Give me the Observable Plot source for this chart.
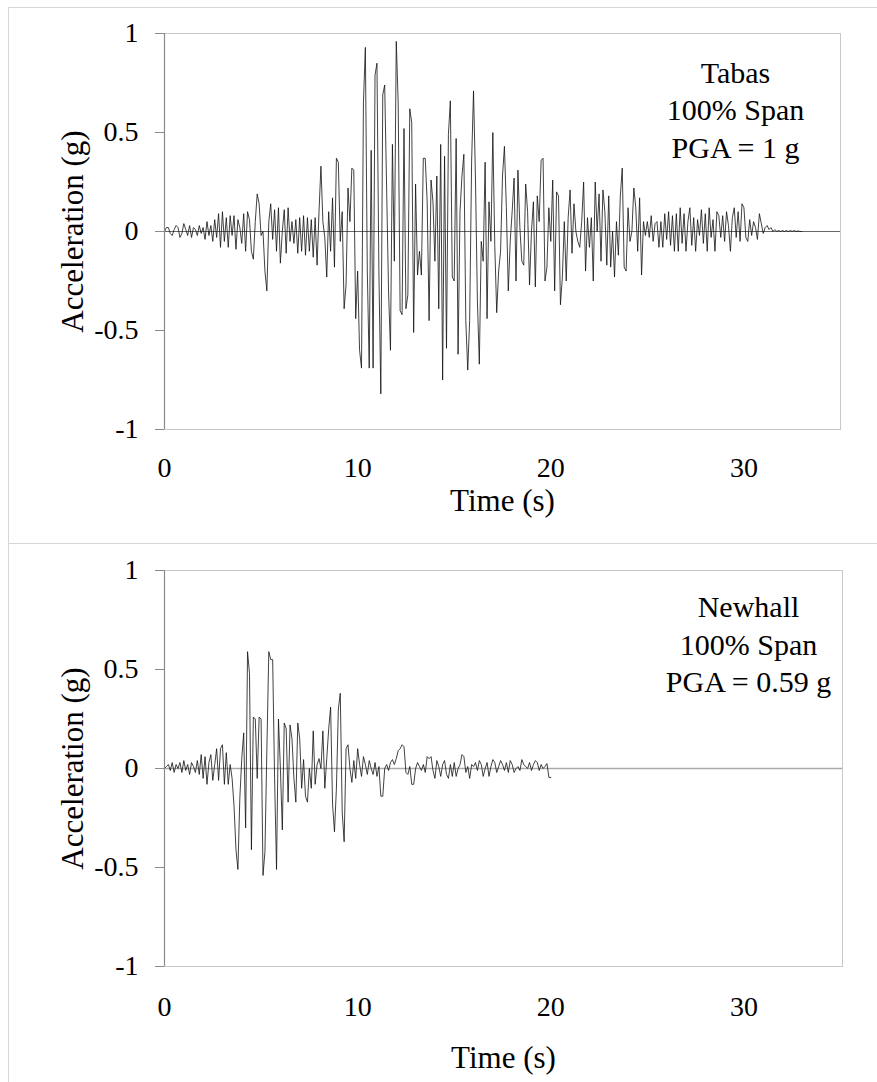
<!DOCTYPE html>
<html><head><meta charset="utf-8">
<script src="https://cdn.jsdelivr.net/npm/d3@7"></script>
<script src="https://cdn.jsdelivr.net/npm/@observablehq/plot@0.6"></script>
<style>
html,body{margin:0;padding:0;background:#fff;}
#wrap{position:absolute;left:8px;top:7px;width:869px;height:1075px;border-left:1px solid #d6d6d6;border-top:1px solid #d6d6d6;}
#top{height:535px;}
#bottom{border-top:1px solid #d6d6d6;height:538px;}
svg{display:block}
</style></head><body>
<div id="wrap"><div id="top"></div><div id="bottom"></div></div>
<script>
// sampling interval of the digitised records (s)
const dt = 0.1;
// Tabas record, acceleration (g), one value per 0.1 s from t = 0
const tabasAcc = [
 0, 0.02, 0.02, -0.01, -0.02, 0.01, 0.03, 0.02, -0.03, -0.01,
 0.04, 0.01, -0.02, 0.03, -0.03, 0.02, 0.01, -0.02, 0.03, -0.01,
 0.02, -0.04, 0.05, -0.02, 0.03, -0.05, 0.06, -0.03, 0.09, -0.08,
 0.1, -0.05, 0.07, -0.08, 0.08, -0.02, 0.08, -0.09, 0.06, 0.02,
 -0.06, 0.09, -0.1, 0.1, 0.06, -0.1, -0.14, 0.05, 0.19, 0.14,
 -0.02, 0.0, -0.2, -0.3, 0.05, 0.14, -0.04, 0.11, -0.1, 0.12,
 -0.16, 0.0, 0.11, -0.11, 0.12, -0.05, 0.05, -0.06, 0.06, -0.11,
 0.07, -0.1, 0.08, -0.12, 0.07, -0.1, 0.06, -0.13, 0.07, -0.17,
 0.1, 0.33, 0.05, -0.03, -0.23, 0.1, -0.1, 0.17, -0.18, 0.37,
 0.35, -0.05, 0.1, -0.39, -0.27, 0.22, 0.05, 0.32, 0.31, -0.44,
 -0.2, -0.6, -0.69, 0.65, 0.93, -0.2, -0.69, 0.41, -0.69, 0.79,
 0.85, -0.2, -0.82, 0.69, 0.74, 0.22, -0.3, -0.6, 0.44, -0.15,
 0.96, 0.65, -0.4, -0.42, 0.52, -0.39, -0.32, 0.62, 0.55, -0.51,
 0.24, -0.22, -0.1, -0.22, 0.37, 0.37, 0.15, -0.45, 0.26, 0.15,
 -0.15, 0.28, -0.39, 0.44, -0.75, 0.38, -0.59, 0.49, 0.66, -0.23,
 -0.25, 0.47, -0.62, 0.1, 0.28, 0.39, -0.45, -0.7, -0.45, 0.35,
 0.71, 0.27, -0.35, -0.67, -0.05, -0.15, 0.35, -0.44, 0.15, -0.05,
 0.5, -0.07, -0.41, -0.2, -0.1, 0.28, 0.43, 0.12, -0.3, -0.05,
 0.1, 0.27, -0.25, 0.31, 0.02, -0.15, -0.17, 0.24, 0.1, -0.27,
 0.0, 0.15, -0.28, 0.18, 0.05, 0.36, 0.37, -0.25, -0.18, 0.12,
 -0.05, 0.26, -0.3, 0.2, 0.18, -0.37, -0.23, 0.05, -0.25, 0.07,
 0.21, -0.11, 0.14, 0.0, -0.05, -0.08, 0.05, 0.25, -0.2, 0.07,
 -0.08, 0.07, -0.25, 0.25, 0.0, 0.19, -0.15, 0.21, 0.1, -0.17,
 0.18, -0.18, 0.0, -0.23, 0.05, -0.12, 0.18, 0.32, -0.18, -0.2,
 0.12, -0.05, 0.0, 0.22, 0.12, -0.1, 0.17, -0.22, 0.05, -0.02,
 0.05, -0.03, 0.08, -0.05, 0.04, 0.05, -0.08, 0.05, -0.08, 0.09,
 -0.04, 0.1, -0.07, 0.08, -0.1, 0.09, -0.1, 0.12, -0.06, 0.09,
 -0.1, 0.05, 0.12, -0.07, 0.07, -0.1, 0.06, -0.02, 0.11, -0.06,
 0.09, -0.1, 0.12, -0.03, 0.06, -0.1, 0.1, 0.08, -0.03, 0.08,
 -0.05, 0.1, 0.03, -0.1, 0.07, 0.12, -0.03, 0.1, -0.05, 0.14,
 0.12, -0.03, -0.05, 0.06, -0.02, 0.05, 0.02, -0.04, 0.09, 0.04,
 -0.01, 0.02, 0.03, 0.01, 0.02, 0.0, 0.01, 0.0, 0.005, 0.0,
 0.005, 0, 0.005, 0, 0.005, 0, 0.005, 0, 0.003, 0,
 0
];
// Newhall record, acceleration (g), one value per 0.1 s from t = 0
const newhallAcc = [
 0, 0.01, 0.02, -0.01, 0.03, -0.02, 0.02, 0.0, 0.03, -0.02,
 0.04, -0.01, 0.02, -0.03, 0.03, 0.01, -0.02, 0.04, -0.03, 0.07,
 -0.05, 0.06, -0.08, 0.03, 0.07, -0.06, 0.02, 0.1, -0.06, 0.1,
 0.12, -0.08, 0.08, -0.08, 0.02, -0.05, -0.19, -0.41, -0.51, -0.15,
 0.05, 0.18, -0.3, 0.59, 0.48, -0.41, 0.26, 0.25, -0.05, 0.26,
 0.25, -0.54, -0.42, 0.1, 0.59, 0.55, 0.55, -0.05, -0.51, 0.25,
 0.0, -0.31, 0.23, 0.2, -0.17, 0.22, 0.15, -0.05, -0.17, 0.23,
 0.15, -0.1, 0.045, -0.14, -0.17, 0.0, -0.1, 0.19, -0.08, 0.02,
 0.05, 0.0, 0.19, -0.1, 0.05, 0.2, 0.31, -0.18, -0.32, -0.1,
 0.3, 0.38, -0.22, -0.37, 0.1, 0.12, 0.0, -0.07, 0.04, -0.05,
 0.1, 0.02, -0.04, 0.06, 0.02, -0.03, 0.04, 0.0, -0.03, 0.03,
 -0.04, 0.01, -0.14, -0.14, 0.0, 0.02, -0.01, 0.03, 0.045, 0.02,
 0.05, 0.09, 0.1, 0.12, 0.11, -0.02, -0.03, 0.01, -0.08, -0.08,
 0.0, 0.03, 0.01, -0.01, 0.02, -0.02, 0.06, 0.05, 0.06, -0.01,
 -0.05, 0.04, 0.01, -0.04, 0.02, 0.04, -0.03, -0.05, 0.02, -0.04,
 0.03, -0.04, 0.0, 0.02, 0.07, 0.06, -0.02, 0.01, -0.05, 0.02,
 0.01, 0.03, -0.01, 0.04, 0.02, -0.04, 0.0, 0.03, -0.04, 0.01,
 0.045, 0.03, -0.02, 0.01, 0.04, 0.02, -0.01, 0.03, -0.02, 0.04,
 0.02, -0.02, 0.0, 0.01, -0.01, 0.045, 0.02, 0.01, 0.0, 0.03,
 -0.01, 0.02, 0.04, 0.03, -0.01, 0.02, 0.0, 0.01, 0.025, -0.045,
 -0.045
];
const xTicks = [0, 10, 20, 30];
const yTicks = [-1, -0.5, 0, 0.5, 1];
const xLabel = "Time (s)";
const yLabel = "Acceleration (g)";
const tabasNotes = ["Tabas", "100% Span", "PGA = 1 g"];
const newhallNotes = ["Newhall", "100% Span", "PGA = 0.59 g"];

const serif = "'Liberation Serif','Times New Roman',Times,serif";
const toRows = arr => arr.map((a, i) => ({t: i * dt, a}));

function panel(o) {
  return Plot.plot({
    width: 868, height: o.height,
    marginLeft: 155, marginRight: o.marginRight, marginTop: o.marginTop, marginBottom: o.marginBottom,
    style: {fontFamily: serif, fontSize: "28px", color: "#000", background: "#fff", overflow: "visible"},
    x: {domain: [0, o.xMax]},
    y: {domain: [-1, 1]},
    marks: [
      Plot.frame({stroke: "#c8c8c8"}),
      Plot.ruleY([0], {stroke: o.zeroStroke, strokeWidth: o.zeroWidth}),
      Plot.line(o.data, {x: "t", y: "a", curve: "linear", stroke: "#111", strokeWidth: 0.8}),
      Plot.ruleX([0], {stroke: "#8a8a8a", strokeWidth: 1.2}),
      Plot.axisY(yTicks, {label: null, tickSize: 9, tickPadding: 17, tickFormat: d => String(d), stroke: "#8a8a8a", fontFamily: serif, fontSize: 28}),
      Plot.axisX(xTicks, {label: null, tickSize: 0, tickPadding: o.tickPad, tickFormat: d => String(d), fontFamily: serif, fontSize: 28}),
      Plot.text([xLabel], {text: d => d, frameAnchor: "bottom", lineAnchor: "middle", textAnchor: "middle", dy: o.titleDy, fontSize: 31, fontFamily: serif}),
      Plot.text([yLabel], {text: d => d, frameAnchor: "left", lineAnchor: "middle", textAnchor: "middle", dx: -91, rotate: -90, fontSize: 31, fontFamily: serif}),
      Plot.text([o.notes.join("\n")], {text: d => d, frameAnchor: "top", lineAnchor: "middle", textAnchor: "middle", dx: o.notesDx, dy: o.notesDy, fontSize: 30, lineHeight: 1.25, fontFamily: serif})
    ]
  });
}

document.getElementById("top").append(panel({
  data: toRows(tabasAcc), height: 535, marginTop: 25, marginBottom: 114, marginRight: 37, xMax: 35,
  zeroStroke: "#666", zeroWidth: 1, tickPad: 28, titleDy: 72, notes: tabasNotes, notesDx: 233, notesDy: 74.5
}));
document.getElementById("bottom").append(panel({
  data: toRows(newhallAcc), height: 538, marginTop: 26, marginBottom: 116, marginRight: 35, xMax: 35.1,
  zeroStroke: "#aaa", zeroWidth: 1.5, tickPad: 30, titleDy: 92, notes: newhallNotes, notesDx: 245, notesDy: 72
}));
</script></body></html>
